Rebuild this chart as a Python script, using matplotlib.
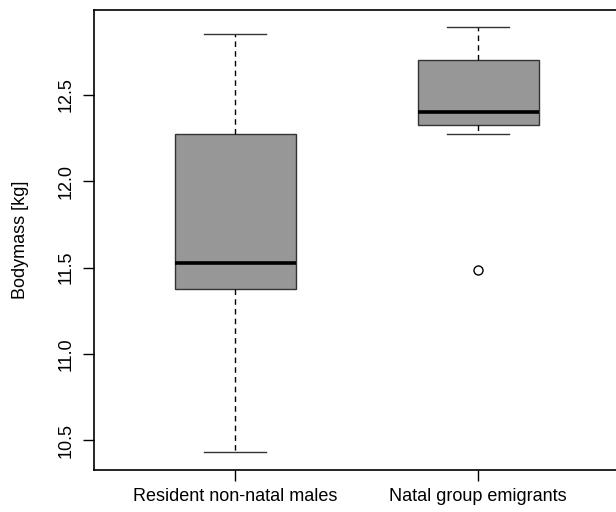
import matplotlib
matplotlib.use("Agg")
from matplotlib import pyplot as plt

# values
groups = ["Resident non-natal males", "Natal group emigrants"]
whisker_low = [10.435, 12.27]
q1 = [11.375, 12.323]
medians = [11.525, 12.40]
q3 = [12.27, 12.698]
whisker_high = [12.85, 12.889]
outliers = [[], [11.485]]

yticks = [10.5, 11.0, 11.5, 12.0, 12.5]

plt.rcParams['font.family'] = ['Liberation Sans', 'DejaVu Sans']

fig = plt.figure(figsize=(6.16, 5.12), dpi=100)
ax = fig.add_axes([0.1532, 0.083, 0.852, 0.897])

stats = []
for i in range(len(groups)):
    stats.append({
        'label': groups[i],
        'whislo': whisker_low[i],
        'q1': q1[i],
        'med': medians[i],
        'q3': q3[i],
        'whishi': whisker_high[i],
        'fliers': outliers[i],
    })

ax.bxp(stats, positions=[1, 2], widths=0.5, patch_artist=True,
       boxprops=dict(facecolor='#979797', edgecolor='#333333', linewidth=1.0),
       medianprops=dict(color='black', linewidth=2.6, solid_capstyle='butt'),
       whiskerprops=dict(color='black', linewidth=1.0, linestyle=(0, (4, 3))),
       capprops=dict(color='#333333', linewidth=1.0),
       capwidths=0.254,
       flierprops=dict(marker='o', markerfacecolor='none', markeredgecolor='black',
                       markersize=6.5, markeredgewidth=1.0))

ax.set_xlim(0.42, 2.58)
ax.set_ylim(10.332, 12.988)
ax.set_yticks(yticks)
ax.set_yticklabels([f"{v:.1f}" for v in yticks], rotation=90, va='center')
ax.set_xticks([1, 2])
ax.set_xticklabels(groups)
ax.tick_params(axis='both', length=8, width=1.0, labelsize=13, color='black')
ax.tick_params(axis='y', pad=6)
ax.tick_params(axis='x', pad=5.5)
ax.set_ylabel("Bodymass [kg]", fontsize=13, labelpad=21)

for s in ax.spines.values():
    s.set_linewidth(1.2)

fig.savefig("out.png", dpi=100)
